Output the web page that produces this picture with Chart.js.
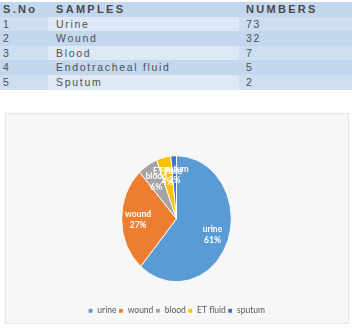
<!DOCTYPE html>
<html>
<head>
<meta charset="utf-8">
<script src="https://cdn.jsdelivr.net/npm/chart.js@4.4.0/dist/chart.umd.min.js"></script>
<style>
body { margin:0; width:352px; height:329px; background:#fff; position:relative; overflow:hidden; font-family:"Liberation Sans", Arial, sans-serif; }
table { position:absolute; left:0; top:2px; width:352px; border-collapse:collapse; font-size:10.5px; color:#505050; letter-spacing:1.7px; }
tr { height:14.6px; }
td { padding:0 0 0 3px; line-height:14.6px; white-space:nowrap; }
th { padding:0 0 0 3px; line-height:14.6px; text-align:left; font-weight:bold; font-size:11px; background:#c2d6ed; color:#4a4a4a; letter-spacing:2.3px; }
.c1 { width:45px; } td.c2, th.c2 { width:183px; padding-left:8px; } th.c3, td.c3 { padding-left:7px; }
tr.odd td { background:#cddef1; } tr.odd td.c2 { background:#dfe9f5; }
tr.even td { background:#c3d7ee; }
#panel { position:absolute; left:5px; top:113px; width:342px; height:209px; background:#f7f7f7; border:1px solid #e6e6e6; }
#wrap { position:absolute; left:5px; top:113px; width:343px; height:212px; }
</style>
</head>
<body>
<table>
<tr><th class="c1">S.No</th><th class="c2">SAMPLES</th><th class="c3">NUMBERS</th></tr>
<tr class="odd"><td class="c1">1</td><td class="c2">Urine</td><td class="c3">73</td></tr>
<tr class="even"><td class="c1">2</td><td class="c2">Wound</td><td class="c3">32</td></tr>
<tr class="odd"><td class="c1">3</td><td class="c2">Blood</td><td class="c3">7</td></tr>
<tr class="even"><td class="c1">4</td><td class="c2">Endotracheal fluid</td><td class="c3">5</td></tr>
<tr class="odd"><td class="c1">5</td><td class="c2">Sputum</td><td class="c3">2</td></tr>
</table>
<div id="panel"></div>
<div id="wrap"><canvas id="myCanvas"></canvas></div>
<script>
var labels = ["urine", "wound", "blood", "ET fluid", "sputum"];
var counts = [73, 32, 7, 5, 2];
var percents = ["61%", "27%", "6%", "4%", "2%"];
var colors = ["#5b9bd5", "#ed7d31", "#a5a5a5", "#ffc000", "#4472c4"];

var squeeze = 0.87;

// draw the pie as an ellipse like the excel picture
var ellipse = {
	id: "ellipse",
	beforeDatasetsDraw: function(chart){
		var a = chart.chartArea;
		var cx = (a.left + a.right) / 2;
		chart.ctx.save();
		chart.ctx.translate(cx, 0);
		chart.ctx.scale(squeeze, 1);
		chart.ctx.translate(-cx, 0);
	},
	afterDatasetsDraw: function(chart){
		chart.ctx.restore();
		var ctx = chart.ctx;
		var meta = chart.getDatasetMeta(0);
		ctx.save();
		ctx.fillStyle = "#fff";
		ctx.font = "bold 8.5px Lato";
		ctx.textAlign = "center";
		ctx.textBaseline = "middle";
		meta.data.forEach(function(arc, i){
			var mid = (arc.startAngle + arc.endAngle) / 2;
			var r = arc.outerRadius * 0.7;
			var x = arc.x + Math.cos(mid) * r * squeeze;
			var y = arc.y + Math.sin(mid) * r;
			ctx.fillText(labels[i], x, y - 5);
			ctx.fillText(percents[i], x, y + 6);
		});
		ctx.restore();
	}
};

var ctx = document.getElementById("myCanvas");
new Chart(ctx, {
	type: "pie",
	data: {
		labels: labels,
		datasets: [{
			data: counts,
			backgroundColor: colors,
			borderColor: "#fff",
			borderWidth: 1,
			radius: 63
		}]
	},
	options: {
		responsive: true,
		maintainAspectRatio: false,
		animation: false,
		layout: { padding: { top: 20, bottom: 0 } },
		plugins: {
			tooltip: { enabled: false },
			legend: {
				position: "bottom",
				labels: {
					boxWidth: 5,
					boxHeight: 5,
					padding: 2,
					color: "#595959",
					font: { family: "Lato", size: 8.5 }
				}
			}
		}
	},
	plugins: [ellipse]
});
</script>
</body>
</html>
